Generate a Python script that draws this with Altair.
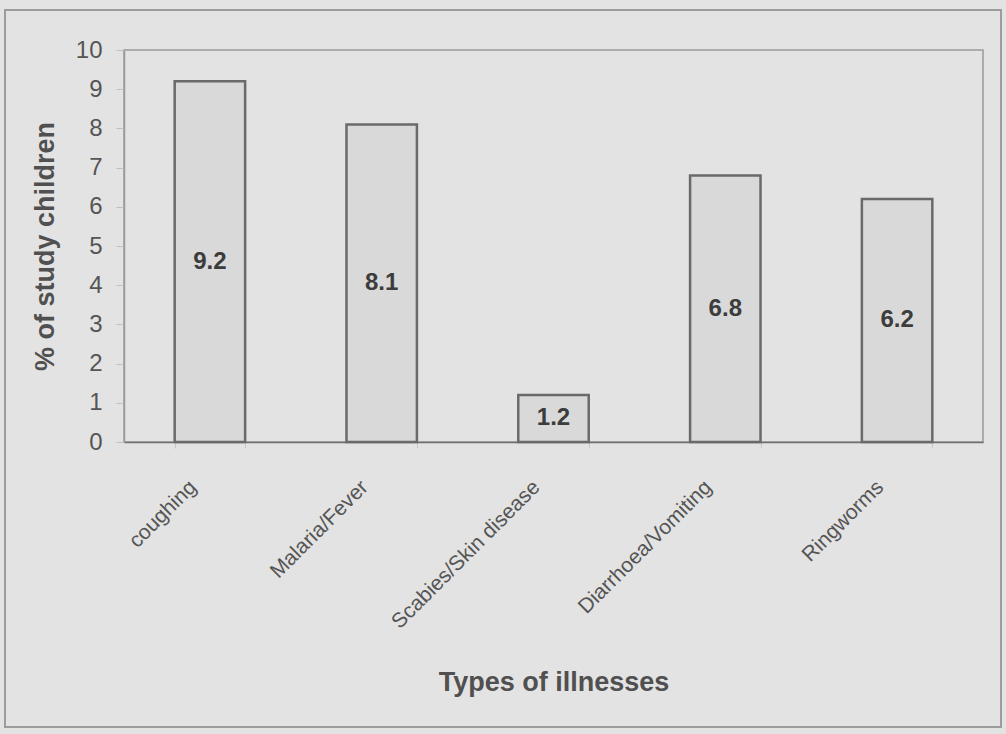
import altair as alt
import pandas as pd

# Share of study children reporting each illness
illnesses = ["coughing", "Malaria/Fever", "Scabies/Skin disease", "Diarrhoea/Vomiting", "Ringworms"]
percent = [9.2, 8.1, 1.2, 6.8, 6.2]
y_ticks = list(range(0, 11))

df = pd.DataFrame({"illness": illnesses, "pct": percent})
df["mid"] = df["pct"] / 2
df["label"] = df["pct"].map(lambda v: f"{v:.1f}")

FONT = "Liberation Sans"
BG = "#e3e3e3"

x_scale = alt.Scale(paddingInner=0.59, paddingOuter=0.295)
x_axis = alt.Axis(
    title="Types of illnesses",
    labelAngle=-45,
    labelAlign="right",
    labelBaseline="top",
    labelFontSize=21,
    labelColor="#555555",
    labelPadding=28,
    labelOffset=-25,
    labelOverlap=False,
    labelLimit=400,
    tickBand="extent",
    tickColor="#c8c8c8",
    tickSize=6,
    domainColor="#707070",
    domainWidth=1.5,
    titleFontSize=27,
    titleFontWeight="bold",
    titleColor="#505050",
    titleY=240,
    titleBaseline="middle",
)

y_scale = alt.Scale(domain=[0, 10], nice=False)
y_axis = alt.Axis(
    title="% of study children",
    values=y_ticks,
    grid=False,
    labelOverlap=False,
    labelFontSize=24,
    labelColor="#555555",
    labelPadding=14,
    tickColor="#c0c0c0",
    tickSize=8,
    domainColor="#9a9a9a",
    domainWidth=1.5,
    titleFontSize=27,
    titleFontWeight="bold",
    titleColor="#505050",
    titleX=-79,
    titleY=196,
    titleBaseline="middle",
)

bars = alt.Chart(df).mark_bar(
    fill="#d9d9d9", stroke="#6a6a6a", strokeWidth=2.5
).encode(
    x=alt.X("illness:N", sort=illnesses, scale=x_scale, axis=x_axis),
    y=alt.Y("pct:Q", scale=y_scale, axis=y_axis),
)

labels = alt.Chart(df).mark_text(
    font=FONT, fontSize=24, fontWeight="bold", color="#3c3c3c", baseline="middle"
).encode(
    x=alt.X("illness:N", sort=illnesses, scale=x_scale, axis=x_axis),
    y=alt.Y("mid:Q", scale=y_scale, axis=y_axis),
    text="label:N",
)

# outer frame around the whole chart
frame = alt.Chart(df).mark_rect(
    fill=None, stroke="#9c9c9c", strokeWidth=2
).encode(
    x=alt.value(-119), x2=alt.value(877), y=alt.value(-40), y2=alt.value(677)
)

chart = (
    alt.layer(frame, bars, labels)
    .properties(
        width=859,
        height=392,
        autosize=alt.AutoSizeParams(type="none"),
        padding={"left": 124, "top": 50, "right": 23, "bottom": 292},
        background=BG,
    )
    .configure_view(stroke="#9a9a9a", strokeWidth=1.5, fill=BG)
    .configure_axis(labelFont=FONT, titleFont=FONT)
)

chart.save("out.html", embed_options={"renderer": "svg", "actions": False})
